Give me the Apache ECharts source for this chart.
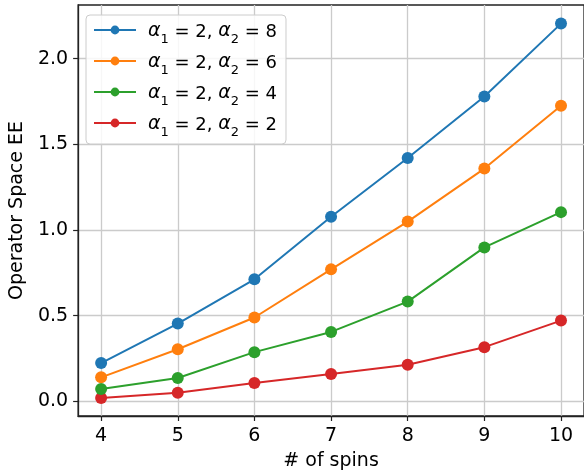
<!DOCTYPE html>
<html>
<head>
<meta charset="utf-8">
<script src="https://cdn.jsdelivr.net/npm/echarts@6/dist/echarts.min.js"></script>
<style>html,body{margin:0;padding:0;background:#fff}#c{width:584px;height:476px}</style>
</head>
<body>
<div id="c"></div>
<script>
const spins = [4, 5, 6, 7, 8, 9, 10];
const alpha2Values = [8, 6, 4, 2];
const ee_a2_8 = [0.223, 0.454, 0.712, 1.077, 1.420, 1.779, 2.204];
const ee_a2_6 = [0.140, 0.304, 0.489, 0.770, 1.049, 1.358, 1.725];
const ee_a2_4 = [0.072, 0.136, 0.287, 0.405, 0.582, 0.898, 1.104];
const ee_a2_2 = [0.019, 0.050, 0.107, 0.159, 0.213, 0.316, 0.471];
const xTicks = [4, 5, 6, 7, 8, 9, 10];
const yTicks = [0, 0.5, 1.0, 1.5, 2.0];
const colors = ['#1f77b4', '#ff7f0e', '#2ca02c', '#d62728'];
const seriesData = [ee_a2_8, ee_a2_6, ee_a2_4, ee_a2_2];

const FONT = 'DejaVu Sans';
const chart = echarts.init(document.getElementById('c'), null, {renderer: 'canvas'});

const series = alpha2Values.map((a, i) => ({
  name: 'a' + a,
  type: 'line',
  data: spins.map((s, j) => [s, seriesData[i][j]]),
  symbol: 'circle',
  symbolSize: 12,
  showSymbol: true,
  itemStyle: {color: colors[i]},
  lineStyle: {color: colors[i], width: 2},
  z: 10 - i,
  animation: false
}));

chart.setOption({
  animation: false,
  textStyle: {fontFamily: FONT},
  grid: {left: 76, top: 5, right: -1, bottom: 59, containLabel: false,
    show: true, borderColor: '#222', borderWidth: 1.3, backgroundColor: 'transparent'},
  xAxis: {
    type: 'value', min: 3.7, max: 10.3,
    name: '# of spins', nameLocation: 'middle', nameGap: 36,
    nameTextStyle: {fontSize: 19, color: '#000', fontFamily: FONT},
    axisLine: {show: true, onZero: false, lineStyle: {color: '#222', width: 1.3}},
    axisTick: {show: true, length: 5, inside: false, customValues: xTicks, lineStyle: {color: '#222', width: 1.2}},
    axisLabel: {customValues: xTicks, fontSize: 19, color: '#000', margin: 11, fontFamily: FONT},
    splitLine: {show: true, lineStyle: {color: '#cbcbcb', width: 1.3}}
  },
  yAxis: {
    type: 'value', min: -0.0856, max: 2.3126,
    name: 'Operator Space EE', nameLocation: 'middle', nameGap: 49,
    nameTextStyle: {fontSize: 19, color: '#000', fontFamily: FONT},
    axisLine: {show: true, onZero: false, lineStyle: {color: '#222', width: 1.3}},
    axisTick: {show: true, length: 5, inside: false, customValues: yTicks, lineStyle: {color: '#222', width: 1.2}},
    axisLabel: {customValues: yTicks, fontSize: 19, color: '#000', margin: 10, fontFamily: FONT,
      formatter: v => v.toFixed(1)},
    splitLine: {show: true, lineStyle: {color: '#cbcbcb', width: 1.3}}
  },
  legend: {
    show: true,
    orient: 'vertical',
    left: 86, top: 15,
    data: alpha2Values.map(a => 'a' + a),
    itemWidth: 42, itemHeight: 11, itemGap: 7,
    padding: [7, 9, 5, 7],
    backgroundColor: 'rgba(255,255,255,0.85)',
    borderColor: '#cccccc', borderWidth: 1, borderRadius: 4,
    formatter: name => {
      const a = name.slice(1);
      return '{g|α}{s|1}{t| = 2, }{g|α}{s|2}{t| = ' + a + '}';
    },
    textStyle: {
      fontFamily: FONT, fontSize: 18, color: '#000', padding: [0, 0, 0, 7],
      rich: {
        g: {fontFamily: FONT, fontSize: 19, fontStyle: 'italic', color: '#000', lineHeight: 22, verticalAlign: 'bottom'},
        s: {fontFamily: FONT, fontSize: 13, color: '#000', lineHeight: 22, verticalAlign: 'bottom', padding: [0, 0, -5, 0]},
        t: {fontFamily: FONT, fontSize: 18, color: '#000', lineHeight: 22, verticalAlign: 'bottom'}
      }
    }
  },
  series: series
});
</script>
</body>
</html>
